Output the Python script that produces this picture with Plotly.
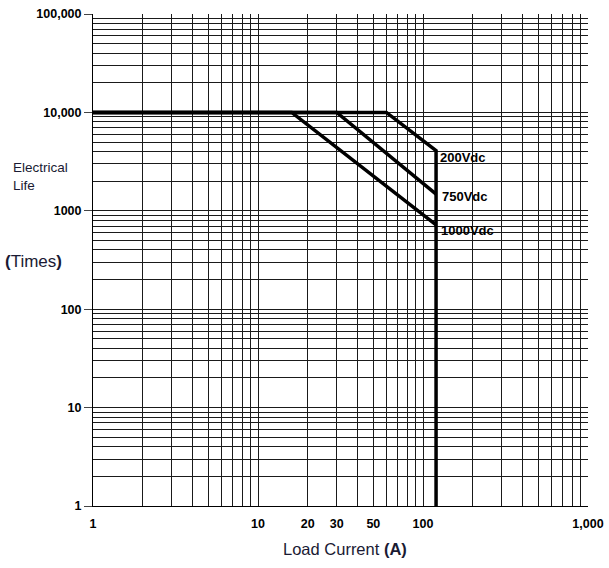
import math
import plotly.graph_objects as go

# ---- data ----
curve_names = ["200Vdc", "750Vdc", "1000Vdc"]
x_200 = [1, 60, 120, 120]
y_200 = [10000, 10000, 4100, 1]
x_750 = [1, 30, 120]
y_750 = [10000, 10000, 1480]
x_1000 = [1, 16, 120]
y_1000 = [10000, 10000, 720]

x_tickvals = [1, 10, 20, 30, 50, 100, 1000]
x_ticktext = ["1", "10", "20", "30", "50", "100", "1,000"]
y_tickvals = [1, 10, 100, 1000, 10000, 100000]
y_ticktext = ["1", "10", "100", "1000", "10,000", "100,000"]

minor_x = [m * 10 ** d for d in range(0, 3) for m in range(2, 10)]
minor_y = [m * 10 ** d for d in range(0, 5) for m in range(2, 10)]

TICKFONT = dict(family="Liberation Sans, Arial", size=12.5, color="black", weight="bold")
LABFONT = dict(family="Liberation Sans, Arial", size=13, color="black", weight="bold")
GRID = "#1a1a1a"

fig = go.Figure()
for xs, ys, name in [(x_200, y_200, curve_names[0]), (x_750, y_750, curve_names[1]),
                     (x_1000, y_1000, curve_names[2])]:
    fig.add_trace(go.Scatter(x=xs, y=ys, mode="lines", name=name,
                             line=dict(color="black", width=3.5), showlegend=False))

label_y_shift = [-7, -2, -6]
label_x_shift = [2, 4, 3]
for xs, ys, name, sh, xsh in [(x_200, y_200, curve_names[0], label_y_shift[0], label_x_shift[0]),
                              (x_750, y_750, curve_names[1], label_y_shift[1], label_x_shift[1]),
                              (x_1000, y_1000, curve_names[2], label_y_shift[2], label_x_shift[2])]:
    yend = ys[2] if name == "200Vdc" else ys[-1]
    fig.add_annotation(x=math.log10(xs[2]), y=math.log10(yend), text=name, showarrow=False,
                       xanchor="left", yanchor="middle", xshift=xsh, yshift=sh, font=LABFONT)

fig.update_xaxes(type="log", range=[0, 3], tickmode="array", tickvals=x_tickvals,
                 ticktext=x_ticktext, tickfont=TICKFONT, showgrid=True, gridcolor=GRID,
                 gridwidth=1, ticks="", showline=True, linecolor="black", linewidth=1,
                 zeroline=False, ticklabelstandoff=6, automargin=False,
                 minor=dict(tickmode="array", tickvals=minor_x, showgrid=True,
                            gridcolor=GRID, gridwidth=1, ticks=""))
fig.update_yaxes(type="log", range=[0, 5], tickmode="array", tickvals=y_tickvals,
                 ticktext=y_ticktext, tickfont=TICKFONT, showgrid=True, gridcolor=GRID,
                 gridwidth=1, ticks="outside", ticklen=8, tickcolor="#444",
                 showline=True, linecolor="black", linewidth=1, zeroline=False,
                 automargin=False,
                 minor=dict(tickmode="array", tickvals=minor_y, showgrid=True,
                            gridcolor=GRID, gridwidth=1, ticks=""))

TCOL = "#1a1a33"
fig.add_annotation(xref="paper", yref="paper",
                   x=(11 - 93) / 495, y=(506 - 158) / 492, text="Electrical<br>Life",
                   showarrow=False, xanchor="left", yanchor="top", align="left",
                   font=dict(family="Liberation Sans, Arial", size=13.5, color=TCOL))
fig.add_annotation(xref="paper", yref="paper",
                   x=(3 - 93) / 495, y=(506 - 261) / 492, text="<b>(</b>Times<b>)</b>",
                   showarrow=False, xanchor="left", yanchor="middle",
                   font=dict(family="Liberation Sans, Arial", size=17, color=TCOL))
fig.add_annotation(xref="paper", yref="paper",
                   x=(345 - 93) / 495, y=(506 - 549) / 492, text="Load Current <b>(A)</b>",
                   showarrow=False, xanchor="center", yanchor="middle",
                   font=dict(family="Liberation Sans, Arial", size=16.5, color=TCOL))

fig.update_layout(width=609, height=568, margin=dict(l=93, r=21, t=14, b=62, autoexpand=False),
                  paper_bgcolor="white", plot_bgcolor="white")
fig.write_html("out.html")
